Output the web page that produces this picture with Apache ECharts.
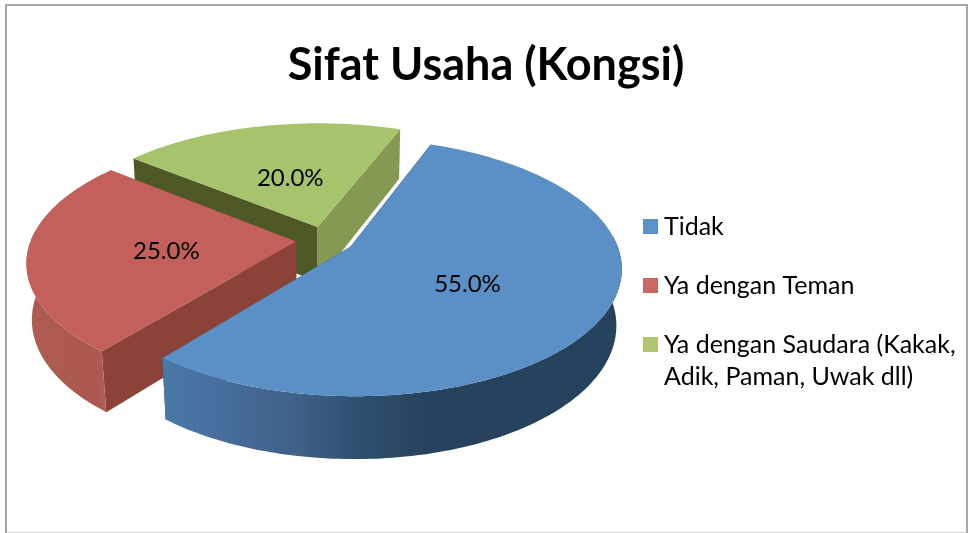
<!DOCTYPE html>
<html><head><meta charset="utf-8">
<style>html,body{margin:0;padding:0;background:#fff}#c{width:969px;height:533px}</style>
<script src="https://cdn.jsdelivr.net/npm/echarts@6/dist/echarts.min.js"></script>
</head><body><div id="c"></div>
<script>
const chartTitle = 'Sifat Usaha (Kongsi)';
const categories = ['Tidak', 'Ya dengan Teman', 'Ya dengan Saudara (Kakak, Adik, Paman, Uwak dll)'];
const legendLabels = ['\nTidak\n', '\nYa dengan Teman\n', '\nYa dengan Saudara (Kakak,\nAdik, Paman, Uwak dll)'];
const shares = [55, 25, 20];
const topColors = ['#5b90c6', '#c4605b', '#a6c46b'];
const legendColors = ['#5b92c8', '#cc6660', '#afc771'];
const startWallColors = ['#27425c', '#8a4239', '#4f5927'];
const endWallColors = ['#27425c', '#8a4239', '#869953'];
const sideStops = [
  [[0,'#4a7aa6'],[0.11,'#486f9e'],[0.3,'#3f6087'],[0.43,'#2f4f70'],[0.58,'#27425c'],[1,'#27425c']],
  [[0,'#b05b53'],[0.6,'#ab5a4e'],[0.8,'#ac5650'],[1,'#b25c58']],
  [[0,'#869953'],[1,'#869953']]
];
const labelShift = [[-2, 5], [1, 3], [3, 4]];
const drawOrder = [2, 1, 0];

// projection of the tilted disc
const G = {x: 325, y: 240}, R = 265, S = 123.7, P = 0.156, Q = 0.018, D = 56.5;
const explode = 0.11, firstAngle = 21, labelRadius = 0.49;
const frontFrom = 85, frontTo = 275;
const total = shares.reduce((a, b) => a + b, 0);
const rad = d => d * Math.PI / 180;
function project(u, v, z) {
  const w = 1 - P * v + Q * z;
  return [G.x + R * u / w, G.y + (S * v + D * z) / w];
}
function sliceAngles(i) {
  let before = 0;
  for (let k = 0; k < i; k++) before += shares[k];
  return [firstAngle + before / total * 360, firstAngle + (before + shares[i]) / total * 360];
}
function renderSlice(i, api) {
  const value = api.value(0);
  const [a0, a1] = sliceAngles(i);
  const mid = rad((a0 + a1) / 2);
  const cu = explode * Math.sin(mid), cv = -explode * Math.cos(mid);
  const pt = (deg, z) => project(cu + Math.sin(rad(deg)), cv - Math.cos(rad(deg)), z);
  const apex = z => project(cu, cv, z);
  const arc = (from, to, z) => { const o = []; for (let d = from; d < to; d += 1) o.push(pt(d, z)); o.push(pt(to, z)); return o; };
  const poly = (points, fill) => ({type: 'polygon', shape: {points}, style: {fill, stroke: null}, silent: true});
  const lab = project(cu + labelRadius * Math.sin(mid), cv - labelRadius * Math.cos(mid), 0);
  const stops = sideStops[i].map(s => ({offset: s[0], color: s[1]}));
  const children = [
    poly([apex(0), pt(a0, 0), pt(a0, 1), apex(1)], startWallColors[i]),
    poly([apex(0), pt(a1, 0), pt(a1, 1), apex(1)], endWallColors[i])
  ];
  const f0 = Math.max(a0, frontFrom), f1 = Math.min(a1, frontTo);
  if (f1 > f0) {
    children.push(poly(arc(f0, f1, 0).concat(arc(f0, f1, 1).reverse()), {type: 'linear', x: 0, y: 0, x2: 1, y2: 0, colorStops: stops}));
  }
  children.push(poly([apex(0)].concat(arc(a0, a1, 0)), topColors[i]));
  children.push({type: 'text', silent: true, style: {text: value.toFixed(1) + '%', x: lab[0] + labelShift[i][0], y: lab[1] + labelShift[i][1], align: 'center', verticalAlign: 'middle', fill: '#000', font: '24px Lato'}});
  return {type: 'group', children};
}
const chart = echarts.init(document.getElementById('c'), null, {renderer: 'canvas'});
chart.setOption({
  animation: false,
  backgroundColor: '#fff',
  title: {text: chartTitle, left: 481, top: 38, textAlign: 'center', textStyle: {fontFamily: 'Lato', fontWeight: 'bold', fontSize: 45, color: '#000'}},
  legend: {
    orient: 'vertical', left: 643, top: 177, padding: 0, itemWidth: 15, itemHeight: 15, itemGap: -40,
    icon: 'rect', selectedMode: false, data: categories,
    formatter: n => legendLabels[categories.indexOf(n)],
    textStyle: {fontFamily: 'Lato', fontSize: 25, lineHeight: 32, color: '#000', padding: [3, 0, 0, 1]}
  },
  graphic: [{type: 'rect', z: -1, silent: true, shape: {x: 6, y: 5, width: 961, height: 528.5}, style: {fill: 'none', stroke: '#a6a6a6', lineWidth: 2}}],
  series: drawOrder.map(i => ({
    type: 'custom', name: categories[i], coordinateSystem: 'none',
    itemStyle: {color: legendColors[i]},
    data: [[shares[i]]],
    renderItem: (params, api) => renderSlice(i, api)
  }))
});
</script></body></html>
